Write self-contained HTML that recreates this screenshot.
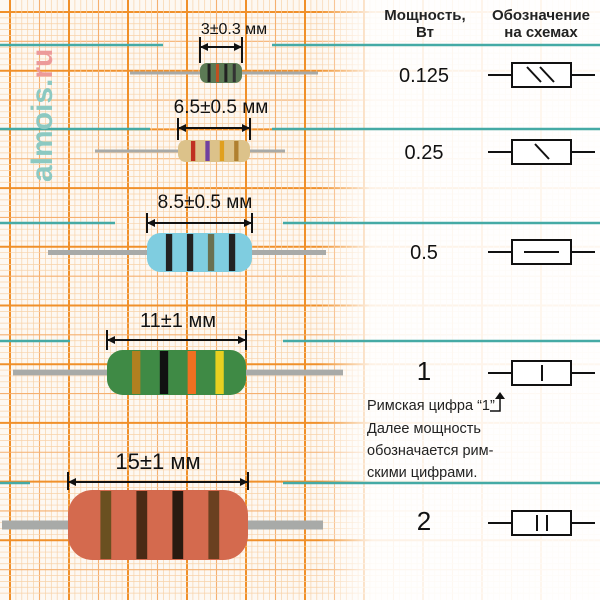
<!DOCTYPE html>
<html><head><meta charset="utf-8"><style>
html,body{margin:0;width:600px;height:600px;overflow:hidden;background:#fff}
svg{display:block}
svg text{font-family:"Liberation Sans","DejaVu Sans",sans-serif}
</style></head><body>
<svg width="600" height="600" viewBox="0 0 600 600">
<defs>
<linearGradient id="fade" x1="0" x2="1" y1="0" y2="0">
<stop offset="0" stop-color="#fff" stop-opacity="0"/>
<stop offset="0.53" stop-color="#fff" stop-opacity="0"/>
<stop offset="0.62" stop-color="#fff" stop-opacity="0.88"/>
<stop offset="1" stop-color="#fff" stop-opacity="0.93"/>
</linearGradient>
</defs>
<rect width="600" height="600" fill="#fdf8f2"/>
<g id="grid"></g>
<rect width="600" height="600" fill="url(#fade)"/>
<g id="teal"></g>
<g id="res"></g>
<g>
<text transform="translate(52,182) rotate(-90)" font-size="30" font-weight="bold" fill="#8cc9c2">almois.<tspan fill="#ec9a9a">ru</tspan></text>
</g>
<g font-weight="bold" font-size="15" fill="#222" text-anchor="middle">
<text x="425" y="20">Мощность,</text><text x="425" y="37">Вт</text>
<text x="541" y="20">Обозначение</text><text x="541" y="37">на схемах</text>
</g>
<g id="rows"></g>
<g font-size="14.5" fill="#222">
<text x="367" y="410">Римская цифра “1”</text>
<text x="367" y="433">Далее мощность</text>
<text x="367" y="455">обозначается рим-</text>
<text x="367" y="477">скими цифрами.</text>
<path d="M490 411 H500 V397" stroke="#111" stroke-width="1.5" fill="none"/>
<path d="M495 399 L500 392 L505 399Z" fill="#111"/>
</g>
</svg>
<script>
const ns="http://www.w3.org/2000/svg";
function mk(t,a,p){const e=document.createElementNS(ns,t);for(const k in a)e.setAttribute(k,a[k]);p.appendChild(e);return e;}
const g=document.getElementById('grid');
for(let i=0;i<102;i++){const maj=i%10===0;const mid=i%5===0;
 const c=maj?'#f0902a':(mid?'#f5b070':'#f8d2a8');const w=maj?2:(mid?1.1:0.7);
 const v=10+i*5.9;
 if(v<599)mk('line',{x1:v,y1:0,x2:v,y2:600,stroke:c,'stroke-width':w},g);
 const h=12+i*5.87;
 if(h<599)mk('line',{x1:0,y1:h,x2:600,y2:h,stroke:c,'stroke-width':w},g);}
const teal=document.getElementById('teal');
[[45,163,272],[129,150,272],[223,115,283],[341,70,283],[483,30,283]].forEach(r=>{
 const l1=mk('line',{x1:0,y1:r[0],x2:r[1],y2:r[0],stroke:'#45aaa5','stroke-width':2.5},teal);
 
 const l2=mk('line',{x1:r[2],y1:r[0],x2:600,y2:r[0],stroke:'#45aaa5','stroke-width':2.5},teal);
 });
const res=document.getElementById('res');
const resistors=[
 {label:'3±0.3 мм',lx:234,ly:34,ay:47,x1:200,x2:242,y1:63,y2:83,lead:[130,318],col:'#5c7a55',bands:['#222','#c05020','#222','#333'],fs:16},
 {label:'6.5±0.5 мм',lx:221,ly:113,ay:128,x1:178,x2:250,y1:140,y2:162,lead:[95,285],col:'#dcc28a',bands:['#c03020','#7040a0','#e0a020','#b08030'],fs:19},
 {label:'8.5±0.5 мм',lx:205,ly:208,ay:223,x1:147,x2:252,y1:233,y2:272,lead:[48,326],col:'#7fcde0',bands:['#222','#222','#6a7050','#222'],fs:19},
 {label:'11±1 мм',lx:178,ly:327,ay:340,x1:107,x2:246,y1:350,y2:395,lead:[13,343],col:'#3f8a45',bands:['#b08020','#111','#f07020','#e8d020'],fs:20},
 {label:'15±1 мм',lx:158,ly:469,ay:482,x1:68,x2:248,y1:490,y2:560,lead:[2,323],col:'#d46a4e',bands:['#6a5020','#4a2a15','#2a1a10','#6a4020'],fs:22}];
resistors.forEach(r=>{
 const gg=mk('g',{},res);
 const cy=(r.y1+r.y2)/2;
 mk('line',{x1:r.lead[0],y1:cy,x2:r.lead[1],y2:cy,stroke:'#a8aaa8','stroke-width':Math.max(3,(r.y2-r.y1)*0.13)},gg);
 const h=r.y2-r.y1;
 mk('rect',{x:r.x1,y:r.y1,width:r.x2-r.x1,height:h,rx:h*0.35,fill:r.col},gg);
 const w=r.x2-r.x1;
 r.bands.forEach((b,i)=>{const bx=r.x1+w*(0.18+i*0.2);
  mk('rect',{x:bx,y:r.y1+1,width:Math.max(3,w*0.06),height:h-2,fill:b},gg);});
 const t=mk('text',{x:r.lx,y:r.ly,'font-size':r.fs,'text-anchor':'middle',fill:'#111'},gg);t.textContent=r.label;
 
 mk('line',{x1:r.x1,y1:r.ay,x2:r.x2,y2:r.ay,stroke:'#111','stroke-width':2},gg);
 mk('line',{x1:r.x1,y1:r.ay-10,x2:r.x1,y2:r.y1,stroke:'#111','stroke-width':2},gg);
 mk('line',{x1:r.x2,y1:r.ay-10,x2:r.x2,y2:r.y1,stroke:'#111','stroke-width':2},gg);
 mk('path',{d:`M${r.x1} ${r.ay} l8 -4 v8z M${r.x2} ${r.ay} l-8 -4 v8z`,fill:'#111'},gg);
});
const rows=document.getElementById('rows');
const powers=['0.125','0.25','0.5','1','2'];
const rowY=[75,152,252,373,523];
powers.forEach((p,i)=>{const y=rowY[i];
 const gg=mk('g',{},rows);
 const t=mk('text',{x:424,y:y+7,'font-size':i>=3?26:20,'text-anchor':'middle',fill:'#111'},gg);t.textContent=p;
 mk('line',{x1:488,y1:y,x2:595,y2:y,stroke:'#111','stroke-width':2},gg);
 mk('rect',{x:512,y:y-12,width:59,height:24,fill:'#fff',stroke:'#111','stroke-width':2},gg);
 if(i===0){for(let k=0;k<2;k++)mk('line',{x1:527+k*13,y1:y-8,x2:541+k*13,y2:y+7,stroke:'#111','stroke-width':2},gg);}
 if(i===1)mk('line',{x1:535,y1:y-8,x2:549,y2:y+7,stroke:'#111','stroke-width':2},gg);
 if(i===2)mk('line',{x1:524,y1:y,x2:559,y2:y,stroke:'#111','stroke-width':2},gg);
 if(i===3)mk('line',{x1:542,y1:y-8,x2:542,y2:y+8,stroke:'#111','stroke-width':2},gg);
 if(i===4){mk('line',{x1:537,y1:y-8,x2:537,y2:y+8,stroke:'#111','stroke-width':2},gg);mk('line',{x1:547,y1:y-8,x2:547,y2:y+8,stroke:'#111','stroke-width':2},gg);}
});
</script>
</body></html>
